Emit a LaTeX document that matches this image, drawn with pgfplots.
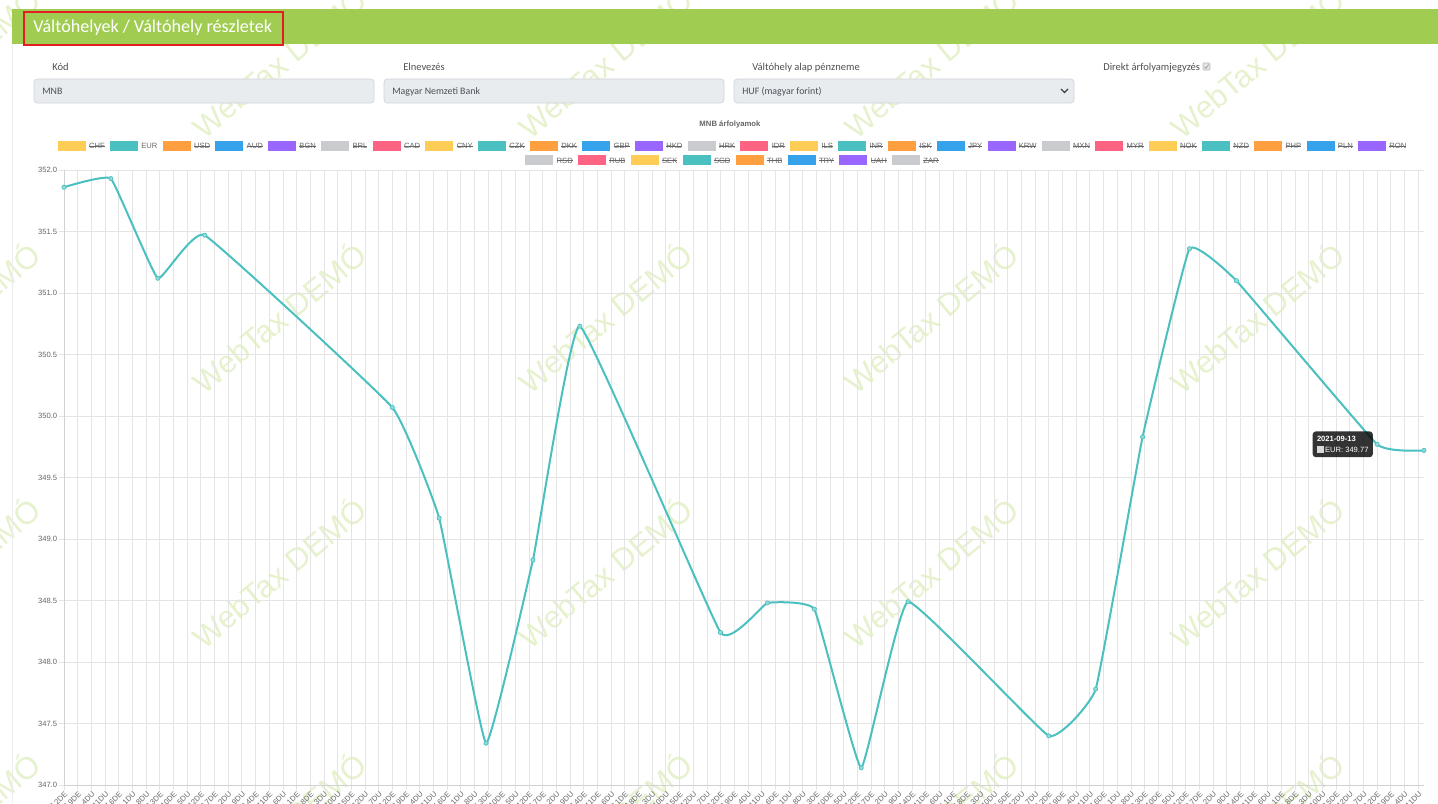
\documentclass[border=0pt]{standalone}
\usepackage{fontspec}
\setmainfont{Liberation Sans}
\newfontfamily\formfont{Carlito}
\usepackage{pgfplots}
\pgfplotsset{compat=1.18}

\definecolor{hdrgreen}{RGB}{161,204,82}
\definecolor{hdrred}{RGB}{226,30,36}
\definecolor{wm}{RGB}{230,242,206}
\definecolor{cY}{RGB}{255,205,86}
\definecolor{cT}{RGB}{75,192,192}
\definecolor{cO}{RGB}{255,159,64}
\definecolor{cB}{RGB}{54,162,235}
\definecolor{cP}{RGB}{153,102,255}
\definecolor{cG}{RGB}{201,203,207}
\definecolor{cR}{RGB}{255,99,132}
\definecolor{txt}{RGB}{102,102,102}
\definecolor{formlbl}{RGB}{80,80,80}
\definecolor{formtxt}{RGB}{73,80,87}
\definecolor{inbg}{RGB}{233,236,239}
\definecolor{inbd}{RGB}{206,212,218}
\definecolor{gridc}{RGB}{228,228,228}
\definecolor{axc}{RGB}{210,210,210}

\newcommand\lbl{%
  \pgfmathtruncatemacro\lbtk{round(\tick)+2}%
  \pgfmathtruncatemacro\lbdd{16+floor(\lbtk/24)}%
  \pgfmathtruncatemacro\lbhh{mod(\lbtk,24)}%
  \pgfmathtruncatemacro\lbhb{mod(\lbhh,12)}%
  \ifnum\lbhb=0 \def\lbhb{12}\fi
  \ifnum\lbdd>31 \pgfmathtruncatemacro\lbdd{\lbdd-31}\def\lbmm{09}\else\def\lbmm{08}\fi
  \ifnum\lbhh<12 \def\lbap{DE}\else\def\lbap{DU}\fi
  2021-\lbmm-\ifnum\lbdd<10 0\fi\lbdd\ \lbhb\lbap}

\newsavebox\stbox
\newcommand\st[1]{\sbox\stbox{#1}\rlap{\rule[1.8pt]{\wd\stbox}{0.45pt}}\usebox\stbox}
% legend item: colour, label
\newcommand\li[2]{\textcolor{#1}{\rule[-1.75pt]{21pt}{7.5pt}}\hspace{2.5pt}\st{#2}\hspace{4pt}}
\newcommand\lion[2]{\textcolor{#1}{\rule[-1.75pt]{21pt}{7.5pt}}\hspace{2.5pt}#2\hspace{4pt}}

\begin{document}
\begin{tikzpicture}
\path[use as bounding box] (0,0) rectangle (1078.5pt,-602.25pt);
\clip (0,0) rectangle (1078.5pt,-602.25pt);
\begin{scope}[x=0.75pt,y=-0.75pt]
\fill[white] (0,0) rectangle (1438,803);

% watermarks
\foreach \cx in {-48,278,604,930,1256}{
  \foreach \cy in {62,317,572,827}{
    \node[rotate=39.5, text=wm, font=\fontsize{23.3}{28}\selectfont, inner sep=0pt] at (\cx,\cy) {WebTax DEMÓ};
  }
}

% container border
\draw[black!7, line width=0.5pt] (12.5,44) -- (12.5,803);

% header
\fill[hdrgreen] (12,9) rectangle (1438,44);
\draw[hdrred, line width=1.5pt] (23.5,11.5) rectangle (283,44.5);
\node[anchor=base west, inner sep=0pt, text=white, font=\formfont\fontsize{13.6}{16}\selectfont] at (33,32.3) {Váltóhelyek / Váltóhely részletek};

% form
\begin{scope}[font=\formfont\fontsize{7.9}{9.5}\selectfont]
\node[anchor=base west, inner sep=0pt, text=formlbl] at (52,70) {Kód};
\node[anchor=base west, inner sep=0pt, text=formlbl] at (403,70) {Elnevezés};
\node[anchor=base west, inner sep=0pt, text=formlbl] at (752,70) {Váltóhely alap pénzneme};
\node[anchor=base west, inner sep=0pt, text=formlbl] at (1103,70) {Direkt árfolyamjegyzés};
\end{scope}
\draw[fill=black!10, draw=black!28, line width=0.4pt, rounded corners=0.6pt] (1203,63) rectangle (1210,70);
\draw[black!40, line width=0.5pt] (1204.5,66.5) -- (1206,68.3) -- (1208.7,64.5);

\foreach \xa/\xb in {34/374,384/724,734/1074}{
  \draw[fill=inbg, draw=inbd, line width=0.5pt, rounded corners=2.5pt] (\xa,79) rectangle (\xb,103);
}
\begin{scope}[font=\formfont\fontsize{7.4}{9}\selectfont]
\node[anchor=base west, inner sep=0pt, text=formtxt] at (42,94.3) {MNB};
\node[anchor=base west, inner sep=0pt, text=formtxt] at (392,94.3) {Magyar Nemzeti Bank};
\node[anchor=base west, inner sep=0pt, text=formtxt] at (742,94.3) {HUF (magyar forint)};
\end{scope}
\draw[black!75, line width=0.9pt] (1061,89) -- (1064.5,92.5) -- (1068,89);

% chart title
\node[text=txt, inner sep=0pt, font=\bfseries\fontsize{5.8}{7}\selectfont] at (730,124) {MNB árfolyamok};

% legend
\node[anchor=base, inner sep=0pt, text=txt, font=\fontsize{5.7}{7}\selectfont] at (732,148.5) {%
\li{cY}{CHF}\lion{cT}{EUR}\li{cO}{USD}\li{cB}{AUD}\li{cP}{BGN}\li{cG}{BRL}\li{cR}{CAD}%
\li{cY}{CNY}\li{cT}{CZK}\li{cO}{DKK}\li{cB}{GBP}\li{cP}{HKD}\li{cG}{HRK}\li{cR}{IDR}%
\li{cY}{ILS}\li{cT}{INR}\li{cO}{ISK}\li{cB}{JPY}\li{cP}{KRW}\li{cG}{MXN}\li{cR}{MYR}%
\li{cY}{NOK}\li{cT}{NZD}\li{cO}{PHP}\li{cB}{PLN}\li{cP}{RON}};
\node[anchor=base, inner sep=0pt, text=txt, font=\fontsize{5.7}{7}\selectfont] at (732,163) {%
\li{cG}{RSD}\li{cR}{RUB}\li{cY}{SEK}\li{cT}{SGD}\li{cO}{THB}\li{cB}{TRY}\li{cP}{UAH}\li{cG}{ZAR}};
\end{scope}

\begin{axis}[
  at={(48pt,-588.75pt)}, anchor=south west,
  width=1020pt, height=461.25pt, scale only axis,
  xmin=0, xmax=696, ymin=347, ymax=352,
  xtick distance=7, ytick distance=0.5,
  scaled x ticks=false, scaled y ticks=false,
  axis lines*=left,
  axis line style={draw=axc, line width=0.6pt},
  grid=major,
  major grid style={draw=gridc, line width=0.5pt},
  tick align=outside, major tick length=4pt,
  tick style={draw=gridc, line width=0.5pt},
  ticklabel style={font=\fontsize{5.7}{7}\selectfont, text=txt},
  /pgf/number format/assume math mode=true,
  yticklabel style={/pgf/number format/fixed, /pgf/number format/fixed zerofill, /pgf/number format/precision=1, anchor=east, inner sep=1pt},
  xticklabel style={rotate=45, anchor=east, inner sep=1pt, yshift=-2.6pt, xshift=0.8pt},
  xticklabel={\lbl},
  clip=false,
]
\addplot[color=cT, line width=1.5pt, smooth, tension=0.18,
  mark=*, mark size=1.6pt, mark options={fill=cT!60, draw=cT, line width=0.5pt}]
coordinates {
(0,351.86)(24,351.93)(48,351.12)(72,351.47)(168,350.07)(192,349.17)(216,347.34)
(240,348.83)(264,350.73)(336,348.24)(360,348.48)(384,348.43)(408,347.14)(432,348.49)
(504,347.40)(528,347.78)(552,349.83)(576,351.36)(600,351.10)(672,349.77)(696,349.72)};
\node[anchor=east, fill=black, fill opacity=0.8, text opacity=1, text=white,
  rounded corners=2.25pt, inner xsep=3.2pt, inner ysep=3.2pt, align=left,
  font=\fontsize{5.7}{8.6}\selectfont] at ([xshift=-3pt]axis cs:672,349.77)
  {\textbf{2021-09-13}\\{\color{white!85!black}\rule[-0.3pt]{5pt}{5pt}}\hspace{1pt}EUR: 349.77};
\end{axis}
\end{tikzpicture}
\end{document}
